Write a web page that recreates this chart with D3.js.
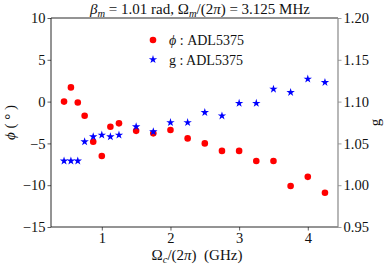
<!DOCTYPE html>
<html>
<head>
<meta charset="utf-8">
<script src="https://cdn.jsdelivr.net/npm/d3@7"></script>
<style>
  body { margin: 0; background: #fff; }
  svg text { font-family: "Liberation Serif", "DejaVu Serif", serif; fill: #111; }
</style>
</head>
<body>
<svg id="chart" width="391" height="268"></svg>
<script>
// frequency of the carrier, GHz
var freqs = [0.45, 0.55, 0.65, 0.75, 0.875, 1.0, 1.125, 1.25, 1.5, 1.75, 2.0, 2.25, 2.5, 2.75, 3.0, 3.25, 3.5, 3.75, 4.0, 4.25];
// phase, degrees
var phiVals = [0.0, 1.7, -0.1, -1.7, -4.8, -6.5, -3.0, -2.6, -3.5, -3.8, -3.4, -4.4, -5.0, -5.9, -5.9, -7.1, -7.1, -10.1, -9.0, -10.9];
// gain
var gVals = [1.029, 1.029, 1.029, 1.052, 1.058, 1.060, 1.058, 1.060, 1.070, 1.064, 1.075, 1.075, 1.087, 1.083, 1.098, 1.098, 1.115, 1.111, 1.127, 1.123];

var xTicks = [1, 2, 3, 4];
var phiTicks = [-15, -10, -5, 0, 5, 10];
var gTicks = [0.95, 1.00, 1.05, 1.10, 1.15, 1.20];

var svg = d3.select('#chart');
var m = { left: 51, right: 338, top: 18, bottom: 227 };

var x = d3.scaleLinear().domain([0.26, 4.44]).range([m.left, m.right]);
var yL = d3.scaleLinear().domain([-15, 10]).range([m.bottom, m.top]);
var yR = d3.scaleLinear().domain([0.95, 1.20]).range([m.bottom, m.top]);

// axes
var xAxis = svg.append('g').attr('transform', 'translate(0,' + m.bottom + ')')
  .call(d3.axisBottom(x).tickValues(xTicks).tickFormat(d3.format('d')).tickSize(3.5).tickPadding(2));
var lAxis = svg.append('g').attr('transform', 'translate(' + m.left + ',0)')
  .call(d3.axisLeft(yL).tickValues(phiTicks).tickFormat(d3.format('d')).tickSize(3.5).tickPadding(2));
var rAxis = svg.append('g').attr('transform', 'translate(' + m.right + ',0)')
  .call(d3.axisRight(yR).tickValues(gTicks).tickFormat(d3.format('.2f')).tickSize(3.5).tickPadding(2));

[xAxis, lAxis, rAxis].forEach(function (a) {
  a.select('.domain').remove();
  a.selectAll('text').style('font-size', '14.5px').attr('fill', '#111');
  a.selectAll('line').attr('stroke', '#333').attr('stroke-width', 0.8);
});
lAxis.selectAll('text').text(function (d) { return d < 0 ? '\u2212' + Math.abs(d) : d; });
rAxis.selectAll('line').attr('stroke', '#888');

// frame
svg.append('line').attr('x1', m.left).attr('x2', m.right).attr('y1', m.top).attr('y2', m.top).attr('stroke', '#111').attr('stroke-width', 0.9);
svg.append('line').attr('x1', m.left).attr('x2', m.right).attr('y1', m.bottom).attr('y2', m.bottom).attr('stroke', '#111').attr('stroke-width', 0.9);
svg.append('line').attr('x1', m.left).attr('x2', m.left).attr('y1', m.top).attr('y2', m.bottom).attr('stroke', '#111').attr('stroke-width', 0.9);
svg.append('line').attr('x1', m.right).attr('x2', m.right).attr('y1', m.top).attr('y2', m.bottom).attr('stroke', '#888').attr('stroke-width', 1.2);

var star = d3.symbol().type(d3.symbolStar).size(22);

// points
svg.append('g').selectAll('circle')
  .data(freqs)
  .enter().append('circle')
  .attr('cx', function (d) { return x(d); })
  .attr('cy', function (d, i) { return yL(phiVals[i]); })
  .attr('r', 3.3)
  .attr('fill', '#ff0000');

svg.append('g').selectAll('path')
  .data(freqs)
  .enter().append('path')
  .attr('d', star)
  .attr('transform', function (d, i) { return 'translate(' + x(d) + ',' + yR(gVals[i]) + ')'; })
  .attr('fill', '#0000ff');

// legend
var lg = svg.append('g').style('font-size', '14px');
lg.append('circle').attr('cx', 153).attr('cy', 40).attr('r', 3.3).attr('fill', '#ff0000');
lg.append('path').attr('d', star).attr('transform', 'translate(153,59.5)').attr('fill', '#0000ff');
var t1 = lg.append('text').attr('x', 169).attr('y', 45);
t1.append('tspan').style('font-style', 'italic').text('ϕ');
t1.append('tspan').text(' : ADL5375');
lg.append('text').attr('x', 169).attr('y', 64.5).text('g : ADL5375');

// title
var title = svg.append('text').attr('x', 200).attr('y', 14).attr('text-anchor', 'middle').style('font-size', '15px');
title.append('tspan').style('font-style', 'italic').text('β');
title.append('tspan').style('font-style', 'italic').style('font-size', '10.5px').attr('dy', 3).text('m');
title.append('tspan').attr('dy', -3).text(' = 1.01 rad, Ω');
title.append('tspan').style('font-style', 'italic').style('font-size', '10.5px').attr('dy', 3).text('m');
title.append('tspan').attr('dy', -3).text('/(2');
title.append('tspan').style('font-style', 'italic').text('π');
title.append('tspan').text(') = 3.125 MHz');

// x label
var xl = svg.append('text').attr('x', 197).attr('y', 260).attr('text-anchor', 'middle').style('font-size', '15px');
xl.append('tspan').text('Ω');
xl.append('tspan').style('font-style', 'italic').style('font-size', '10.5px').attr('dy', 3).text('c');
xl.append('tspan').attr('dy', -3).text('/(2');
xl.append('tspan').style('font-style', 'italic').text('π');
xl.append('tspan').text(')\u2002(GHz)');

// left label
var ll = svg.append('text').attr('transform', 'translate(15,' + ((m.top + m.bottom) / 2) + ') rotate(-90)')
  .attr('text-anchor', 'middle').style('font-size', '15px');
ll.append('tspan').style('font-style', 'italic').text('ϕ');
ll.append('tspan').text(' ( ° )');

// right label
svg.append('text').attr('transform', 'translate(380,' + ((m.top + m.bottom) / 2) + ') rotate(-90)')
  .attr('text-anchor', 'middle').style('font-size', '15px').text('g');
</script>
</body>
</html>
